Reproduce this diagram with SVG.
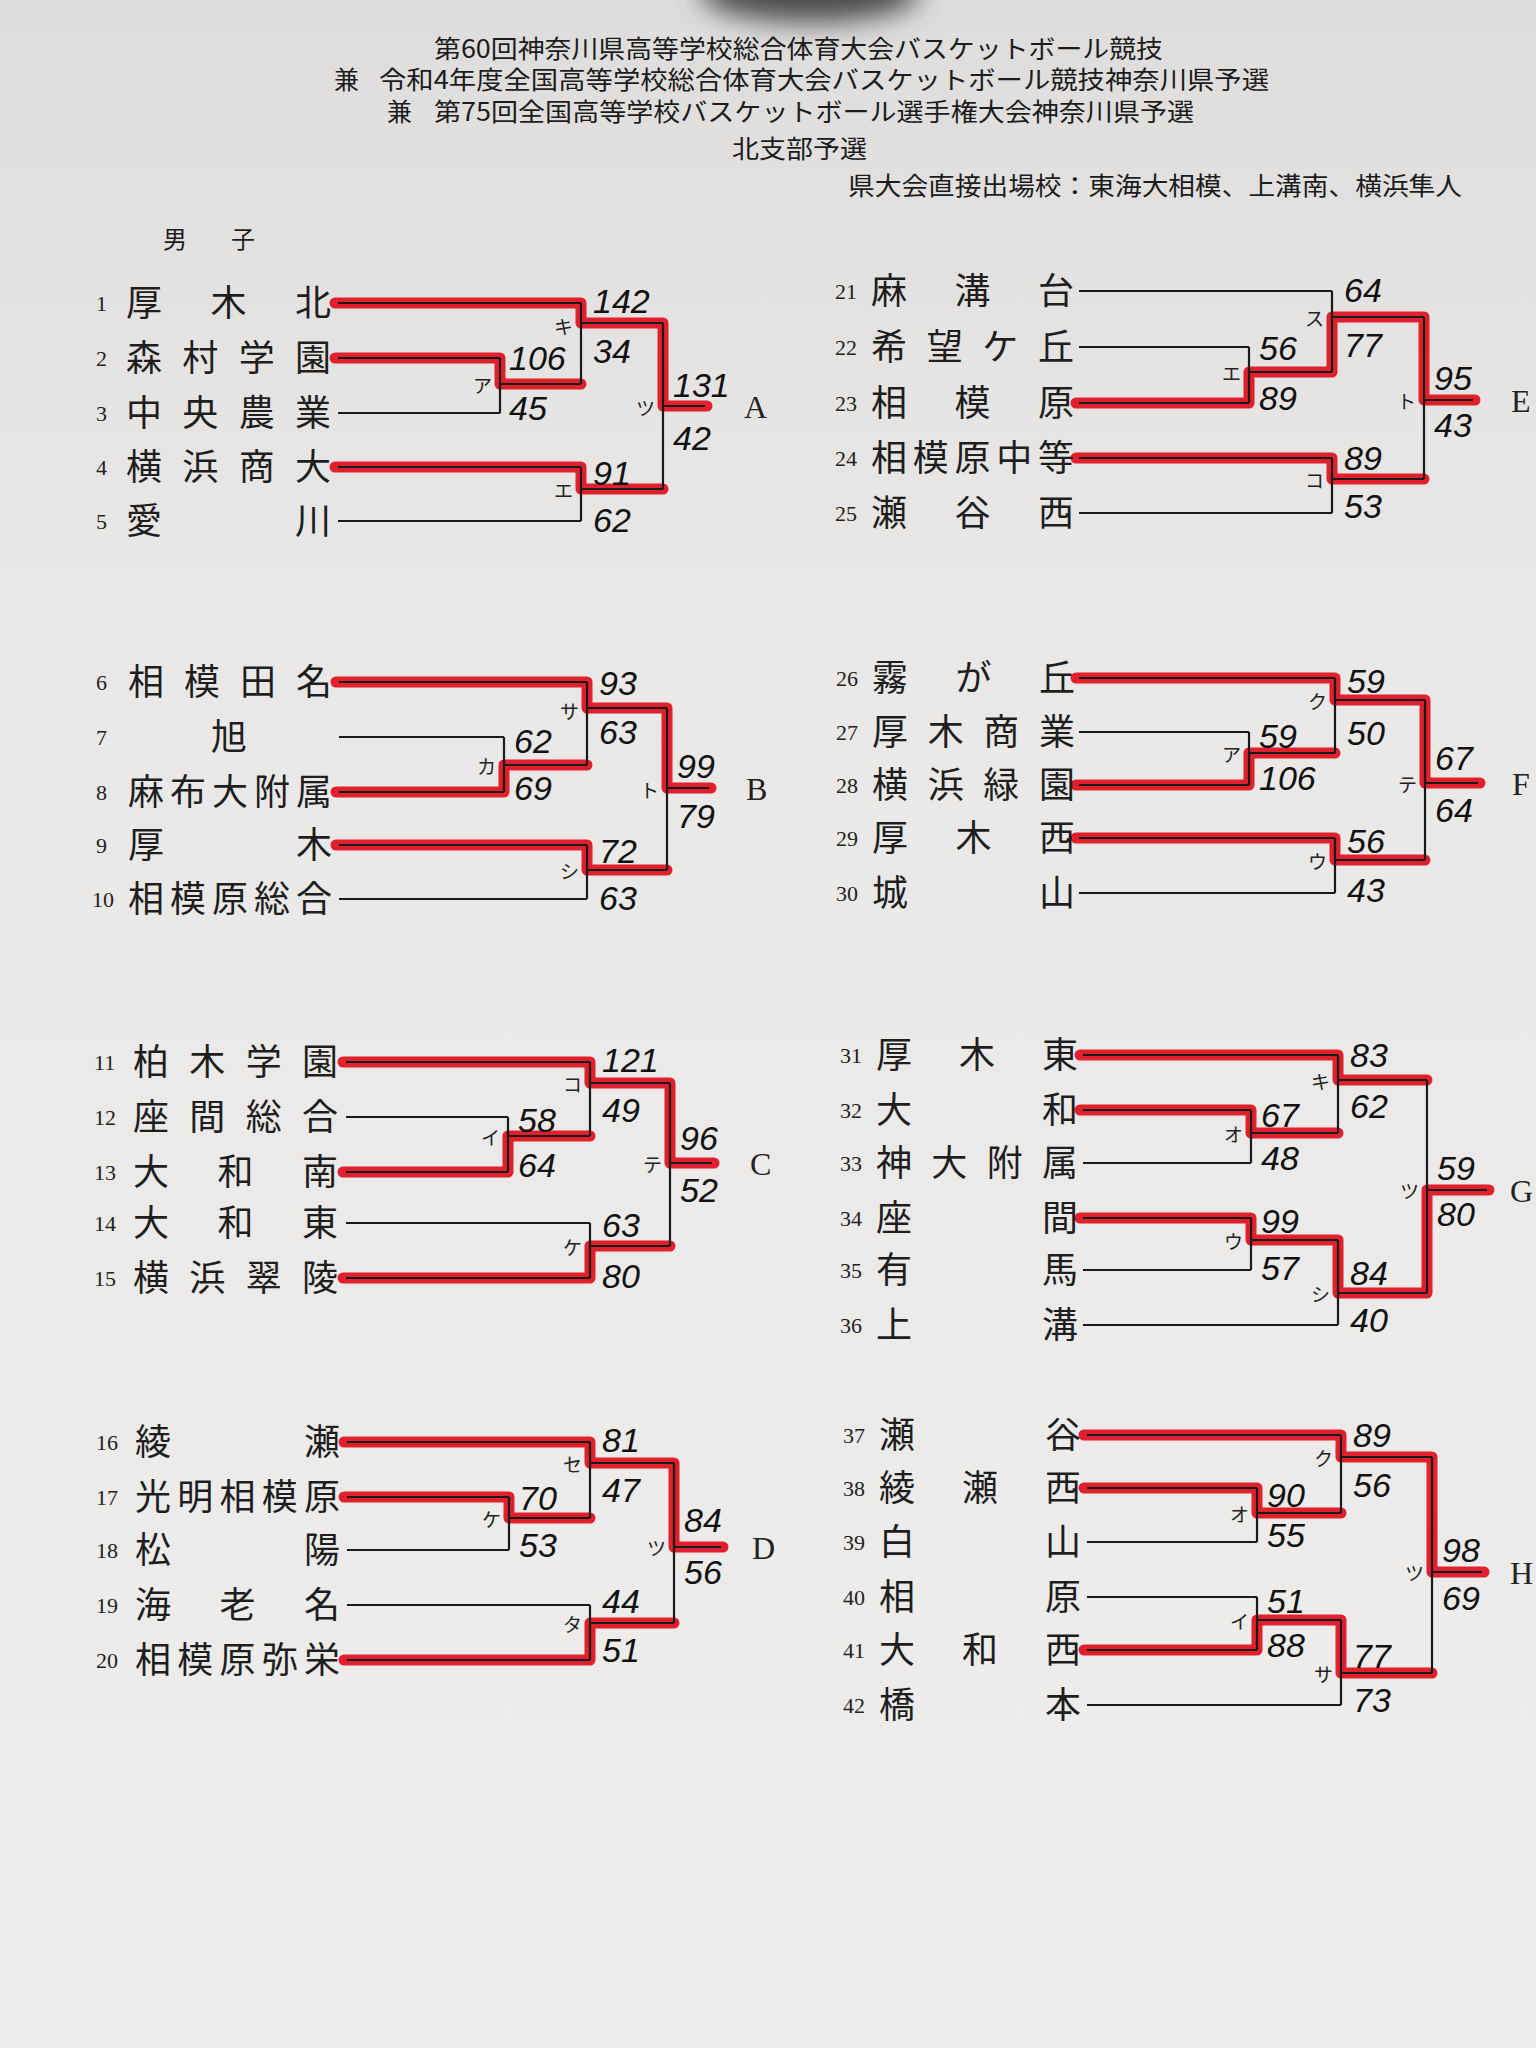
<svg xmlns="http://www.w3.org/2000/svg" width="1536" height="2048" viewBox="0 0 1536 2048">
<defs>
<linearGradient id="paper" x1="0" y1="0" x2="0" y2="1">
<stop offset="0" stop-color="#dedddb"/>
<stop offset="0.3" stop-color="#e9e8e6"/>
<stop offset="1" stop-color="#eeedeb"/>
</linearGradient>
<filter id="blur" x="-50%" y="-50%" width="200%" height="200%"><feGaussianBlur stdDeviation="14"/></filter>
</defs>
<style>
.hd{font-family:"Noto Sans CJK JP","Noto Sans CJK SC",sans-serif;font-size:25px;fill:#1c1c1c}
.no{font-family:"Liberation Serif",serif;font-size:22px;fill:#222}
.nm{font-family:"Noto Sans CJK JP","Noto Sans CJK SC",sans-serif;font-size:36px;fill:#1e1e1e}
.sc{font-family:"Liberation Sans",sans-serif;font-style:italic;font-size:34px;fill:#111}
.lb{font-family:"Noto Sans CJK JP","Noto Sans CJK SC",sans-serif;font-size:19px;fill:#222;text-anchor:end}
.bk{font-family:"Liberation Serif",serif;font-size:32px;fill:#222}
.ln{fill:none;stroke:#1a1a1a;stroke-width:2.2}
.hl{fill:none;stroke:#e0202c;stroke-width:11;stroke-linecap:round;stroke-linejoin:round}
</style>
<rect width="1536" height="2048" fill="url(#paper)"/>
<ellipse cx="810" cy="-8" rx="110" ry="30" fill="#4a4a4a" filter="url(#blur)"/>

<g id="header">
<text class="hd" x="434" y="58" textLength="729" lengthAdjust="spacingAndGlyphs">第60回神奈川県高等学校総合体育大会バスケットボール競技</text>
<text class="hd" x="334" y="89">兼</text>
<text class="hd" x="379" y="89" textLength="890" lengthAdjust="spacingAndGlyphs">令和4年度全国高等学校総合体育大会バスケットボール競技神奈川県予選</text>
<text class="hd" x="387" y="121">兼</text>
<text class="hd" x="434" y="121" textLength="760" lengthAdjust="spacingAndGlyphs">第75回全国高等学校バスケットボール選手権大会神奈川県予選</text>
<text class="hd" x="732" y="158" textLength="135" lengthAdjust="spacingAndGlyphs">北支部予選</text>
<text class="hd" x="848" y="195" textLength="614" lengthAdjust="spacingAndGlyphs">県大会直接出場校：東海大相模、上溝南、横浜隼人</text>
<text class="hd" x="163" y="248" textLength="92" lengthAdjust="spacing" style="font-size:24px">男子</text>
</g>

<g id="connectors">
<g id="highlights">
<path class="hl" d="M335 303H581V323H663V406H707M335 358H500V384H581M335 467H581V489H663"/>
<path class="hl" d="M336 682H587V708H667V788H711M336 792H504V765H587M336 845H587V870H667"/>
<path class="hl" d="M343 1062H590V1083H670V1163H714M343 1172H508V1136H590M343 1278H590V1246H670"/>
<path class="hl" d="M344 1442H590V1463H674V1547H723M344 1497H509V1518H590M344 1660H590V1623H674"/>
<path class="hl" d="M1076 403H1249V372H1332V317H1424V400H1475M1076 458H1332V479H1424"/>
<path class="hl" d="M1076 678H1335V700H1425V783H1480M1076 785H1249V753H1335M1076 838H1335V860H1425"/>
<path class="hl" d="M1080 1055H1338V1080H1427M1080 1110H1251V1133H1338M1080 1218H1251V1240H1338V1293H1427V1190H1489"/>
<path class="hl" d="M1084 1435H1341V1457H1432V1572H1484M1084 1488H1257V1513H1341M1084 1650H1257V1620H1341V1673H1432"/>
</g>
<g id="lines">
<path class="ln" d="M338 303H581M338 358H500M338 413H500M500 358V413M500 384H581M581 303V384M581 323H663M338 467H581M338 521H581M581 467V521M581 489H663M663 323V489M663 406H705"/>
<path class="ln" d="M339 682H587M339 737H504M339 792H504M504 737V792M504 765H587M587 682V765M587 708H667M339 845H587M339 899H587M587 845V899M587 870H667M667 708V870M667 788H709"/>
<path class="ln" d="M346 1062H590M346 1117H508M346 1172H508M508 1117V1172M508 1136H590M590 1062V1136M590 1083H670M346 1223H590M346 1278H590M590 1223V1278M590 1246H670M670 1083V1246M670 1163H712"/>
<path class="ln" d="M347 1442H590M347 1497H509M347 1550H509M509 1497V1550M509 1518H590M590 1442V1518M590 1463H674M347 1605H590M347 1660H590M590 1605V1660M590 1623H674M674 1463V1623M674 1547H721"/>
<path class="ln" d="M1079 291H1332M1079 347H1249M1079 403H1249M1249 347V403M1249 372H1332M1332 291V372M1332 317H1424M1079 458H1332M1079 513H1332M1332 458V513M1332 479H1424M1424 317V479M1424 400H1473"/>
<path class="ln" d="M1079 678H1335M1079 732H1249M1079 785H1249M1249 732V785M1249 753H1335M1335 678V753M1335 700H1425M1079 838H1335M1079 893H1335M1335 838V893M1335 860H1425M1425 700V860M1425 783H1478"/>
<path class="ln" d="M1083 1055H1338M1083 1110H1251M1083 1163H1251M1251 1110V1163M1251 1133H1338M1338 1055V1133M1338 1080H1427M1083 1218H1251M1083 1270H1251M1251 1218V1270M1251 1240H1338M1083 1325H1338M1338 1240V1325M1338 1293H1427M1427 1080V1293M1427 1190H1487"/>
<path class="ln" d="M1087 1435H1341M1087 1488H1257M1087 1542H1257M1257 1488V1542M1257 1513H1341M1341 1435V1513M1341 1457H1432M1087 1597H1257M1087 1650H1257M1257 1597V1650M1257 1620H1341M1087 1705H1341M1341 1620V1705M1341 1673H1432M1432 1457V1673M1432 1572H1482"/>
</g>
</g>

<!-- Teams -->
<g id="team-01"><text class="no" x="96" y="311">1</text><text class="nm" x="126" y="316" textLength="205" lengthAdjust="spacing">厚木北</text></g>
<g id="team-02"><text class="no" x="96" y="366">2</text><text class="nm" x="126" y="371" textLength="205" lengthAdjust="spacing">森村学園</text></g>
<g id="team-03"><text class="no" x="96" y="421">3</text><text class="nm" x="126" y="426" textLength="205" lengthAdjust="spacing">中央農業</text></g>
<g id="team-04"><text class="no" x="96" y="475">4</text><text class="nm" x="126" y="480" textLength="205" lengthAdjust="spacing">横浜商大</text></g>
<g id="team-05"><text class="no" x="96" y="529">5</text><text class="nm" x="126" y="534" textLength="205" lengthAdjust="spacing">愛川</text></g>

<g id="team-06"><text class="no" x="96" y="690">6</text><text class="nm" x="128" y="695" textLength="204" lengthAdjust="spacing">相模田名</text></g>
<g id="team-07"><text class="no" x="96" y="745">7</text><text class="nm" x="229" y="750" text-anchor="middle">旭</text></g>
<g id="team-08"><text class="no" x="96" y="800">8</text><text class="nm" x="128" y="805" textLength="204" lengthAdjust="spacing">麻布大附属</text></g>
<g id="team-09"><text class="no" x="96" y="853">9</text><text class="nm" x="128" y="858" textLength="204" lengthAdjust="spacing">厚木</text></g>
<g id="team-10"><text class="no" x="92" y="907">10</text><text class="nm" x="128" y="912" textLength="204" lengthAdjust="spacing">相模原総合</text></g>

<g id="team-11"><text class="no" x="94" y="1070">11</text><text class="nm" x="133" y="1075" textLength="205" lengthAdjust="spacing">柏木学園</text></g>
<g id="team-12"><text class="no" x="94" y="1125">12</text><text class="nm" x="133" y="1130" textLength="205" lengthAdjust="spacing">座間総合</text></g>
<g id="team-13"><text class="no" x="94" y="1180">13</text><text class="nm" x="133" y="1185" textLength="205" lengthAdjust="spacing">大和南</text></g>
<g id="team-14"><text class="no" x="94" y="1231">14</text><text class="nm" x="133" y="1236" textLength="205" lengthAdjust="spacing">大和東</text></g>
<g id="team-15"><text class="no" x="94" y="1286">15</text><text class="nm" x="133" y="1291" textLength="205" lengthAdjust="spacing">横浜翠陵</text></g>

<g id="team-16"><text class="no" x="96" y="1450">16</text><text class="nm" x="135" y="1455" textLength="205" lengthAdjust="spacing">綾瀬</text></g>
<g id="team-17"><text class="no" x="96" y="1505">17</text><text class="nm" x="135" y="1510" textLength="205" lengthAdjust="spacing">光明相模原</text></g>
<g id="team-18"><text class="no" x="96" y="1558">18</text><text class="nm" x="135" y="1563" textLength="205" lengthAdjust="spacing">松陽</text></g>
<g id="team-19"><text class="no" x="96" y="1613">19</text><text class="nm" x="135" y="1618" textLength="205" lengthAdjust="spacing">海老名</text></g>
<g id="team-20"><text class="no" x="96" y="1668">20</text><text class="nm" x="135" y="1673" textLength="205" lengthAdjust="spacing">相模原弥栄</text></g>

<g id="team-21"><text class="no" x="835" y="299">21</text><text class="nm" x="871" y="304" textLength="203" lengthAdjust="spacing">麻溝台</text></g>
<g id="team-22"><text class="no" x="835" y="355">22</text><text class="nm" x="871" y="360" textLength="203" lengthAdjust="spacing">希望ケ丘</text></g>
<g id="team-23"><text class="no" x="835" y="411">23</text><text class="nm" x="871" y="416" textLength="203" lengthAdjust="spacing">相模原</text></g>
<g id="team-24"><text class="no" x="835" y="466">24</text><text class="nm" x="871" y="471" textLength="203" lengthAdjust="spacing">相模原中等</text></g>
<g id="team-25"><text class="no" x="835" y="521">25</text><text class="nm" x="871" y="526" textLength="203" lengthAdjust="spacing">瀬谷西</text></g>

<g id="team-26"><text class="no" x="836" y="686">26</text><text class="nm" x="872" y="691" textLength="203" lengthAdjust="spacing">霧が丘</text></g>
<g id="team-27"><text class="no" x="836" y="740">27</text><text class="nm" x="872" y="745" textLength="203" lengthAdjust="spacing">厚木商業</text></g>
<g id="team-28"><text class="no" x="836" y="793">28</text><text class="nm" x="872" y="798" textLength="203" lengthAdjust="spacing">横浜緑園</text></g>
<g id="team-29"><text class="no" x="836" y="846">29</text><text class="nm" x="872" y="851" textLength="203" lengthAdjust="spacing">厚木西</text></g>
<g id="team-30"><text class="no" x="836" y="901">30</text><text class="nm" x="872" y="906" textLength="203" lengthAdjust="spacing">城山</text></g>

<g id="team-31"><text class="no" x="840" y="1063">31</text><text class="nm" x="876" y="1068" textLength="202" lengthAdjust="spacing">厚木東</text></g>
<g id="team-32"><text class="no" x="840" y="1118">32</text><text class="nm" x="876" y="1123" textLength="202" lengthAdjust="spacing">大和</text></g>
<g id="team-33"><text class="no" x="840" y="1171">33</text><text class="nm" x="876" y="1176" textLength="202" lengthAdjust="spacing">神大附属</text></g>
<g id="team-34"><text class="no" x="840" y="1226">34</text><text class="nm" x="876" y="1231" textLength="202" lengthAdjust="spacing">座間</text></g>
<g id="team-35"><text class="no" x="840" y="1278">35</text><text class="nm" x="876" y="1283" textLength="202" lengthAdjust="spacing">有馬</text></g>
<g id="team-36"><text class="no" x="840" y="1333">36</text><text class="nm" x="876" y="1338" textLength="202" lengthAdjust="spacing">上溝</text></g>

<g id="team-37"><text class="no" x="843" y="1443">37</text><text class="nm" x="879" y="1448" textLength="202" lengthAdjust="spacing">瀬谷</text></g>
<g id="team-38"><text class="no" x="843" y="1496">38</text><text class="nm" x="879" y="1501" textLength="202" lengthAdjust="spacing">綾瀬西</text></g>
<g id="team-39"><text class="no" x="843" y="1550">39</text><text class="nm" x="879" y="1555" textLength="202" lengthAdjust="spacing">白山</text></g>
<g id="team-40"><text class="no" x="843" y="1605">40</text><text class="nm" x="879" y="1610" textLength="202" lengthAdjust="spacing">相原</text></g>
<g id="team-41"><text class="no" x="843" y="1658">41</text><text class="nm" x="879" y="1663" textLength="202" lengthAdjust="spacing">大和西</text></g>
<g id="team-42"><text class="no" x="843" y="1713">42</text><text class="nm" x="879" y="1718" textLength="202" lengthAdjust="spacing">橋本</text></g>

<!-- Matches -->
<g id="match-A1"><text class="lb" x="492" y="393">ア</text><text class="sc" x="509" y="370">106</text><text class="sc" x="509" y="420">45</text></g>
<g id="match-A2"><text class="lb" x="573" y="334">キ</text><text class="sc" x="593" y="313">142</text><text class="sc" x="593" y="363">34</text></g>
<g id="match-A3"><text class="lb" x="573" y="498">エ</text><text class="sc" x="593" y="485">91</text><text class="sc" x="593" y="532">62</text></g>
<g id="match-A4"><text class="lb" x="655" y="416">ツ</text><text class="sc" x="673" y="397">131</text><text class="sc" x="673" y="450">42</text></g>
<g id="group-A"><text class="bk" x="744" y="418">A</text></g>

<g id="match-B1"><text class="lb" x="496" y="774">カ</text><text class="sc" x="514" y="753">62</text><text class="sc" x="514" y="800">69</text></g>
<g id="match-B2"><text class="lb" x="579" y="719">サ</text><text class="sc" x="599" y="695">93</text><text class="sc" x="599" y="744">63</text></g>
<g id="match-B3"><text class="lb" x="579" y="879">シ</text><text class="sc" x="599" y="863">72</text><text class="sc" x="599" y="910">63</text></g>
<g id="match-B4"><text class="lb" x="659" y="798">ト</text><text class="sc" x="677" y="778">99</text><text class="sc" x="677" y="828">79</text></g>
<g id="group-B"><text class="bk" x="746" y="800">B</text></g>

<g id="match-C1"><text class="lb" x="500" y="1145">イ</text><text class="sc" x="518" y="1132">58</text><text class="sc" x="518" y="1177">64</text></g>
<g id="match-C2"><text class="lb" x="582" y="1092">コ</text><text class="sc" x="602" y="1072">121</text><text class="sc" x="602" y="1122">49</text></g>
<g id="match-C3"><text class="lb" x="582" y="1255">ケ</text><text class="sc" x="602" y="1237">63</text><text class="sc" x="602" y="1288">80</text></g>
<g id="match-C4"><text class="lb" x="662" y="1172">テ</text><text class="sc" x="680" y="1150">96</text><text class="sc" x="680" y="1202">52</text></g>
<g id="group-C"><text class="bk" x="750" y="1175">C</text></g>

<g id="match-D1"><text class="lb" x="501" y="1527">ケ</text><text class="sc" x="519" y="1510">70</text><text class="sc" x="519" y="1557">53</text></g>
<g id="match-D2"><text class="lb" x="582" y="1472">セ</text><text class="sc" x="602" y="1452">81</text><text class="sc" x="602" y="1502">47</text></g>
<g id="match-D3"><text class="lb" x="582" y="1632">タ</text><text class="sc" x="602" y="1613">44</text><text class="sc" x="602" y="1662">51</text></g>
<g id="match-D4"><text class="lb" x="666" y="1556">ツ</text><text class="sc" x="684" y="1532">84</text><text class="sc" x="684" y="1584">56</text></g>
<g id="group-D"><text class="bk" x="752" y="1559">D</text></g>

<g id="match-E1"><text class="lb" x="1241" y="381">エ</text><text class="sc" x="1259" y="360">56</text><text class="sc" x="1259" y="410">89</text></g>
<g id="match-E2"><text class="lb" x="1324" y="326">ス</text><text class="sc" x="1344" y="302">64</text><text class="sc" x="1344" y="357">77</text></g>
<g id="match-E3"><text class="lb" x="1324" y="488">コ</text><text class="sc" x="1344" y="470">89</text><text class="sc" x="1344" y="518">53</text></g>
<g id="match-E4"><text class="lb" x="1416" y="409">ト</text><text class="sc" x="1434" y="390">95</text><text class="sc" x="1434" y="437">43</text></g>
<g id="group-E"><text class="bk" x="1511" y="412">E</text></g>

<g id="match-F1"><text class="lb" x="1241" y="762">ア</text><text class="sc" x="1259" y="748">59</text><text class="sc" x="1259" y="790">106</text></g>
<g id="match-F2"><text class="lb" x="1327" y="709">ク</text><text class="sc" x="1347" y="693">59</text><text class="sc" x="1347" y="745">50</text></g>
<g id="match-F3"><text class="lb" x="1327" y="869">ウ</text><text class="sc" x="1347" y="853">56</text><text class="sc" x="1347" y="902">43</text></g>
<g id="match-F4"><text class="lb" x="1417" y="792">テ</text><text class="sc" x="1435" y="770">67</text><text class="sc" x="1435" y="822">64</text></g>
<g id="group-F"><text class="bk" x="1512" y="795">F</text></g>

<g id="match-G1"><text class="lb" x="1243" y="1142">オ</text><text class="sc" x="1261" y="1127">67</text><text class="sc" x="1261" y="1170">48</text></g>
<g id="match-G2"><text class="lb" x="1330" y="1089">キ</text><text class="sc" x="1350" y="1067">83</text><text class="sc" x="1350" y="1118">62</text></g>
<g id="match-G3"><text class="lb" x="1243" y="1249">ウ</text><text class="sc" x="1261" y="1233">99</text><text class="sc" x="1261" y="1280">57</text></g>
<g id="match-G4"><text class="lb" x="1330" y="1302">シ</text><text class="sc" x="1350" y="1285">84</text><text class="sc" x="1350" y="1332">40</text></g>
<g id="match-G5"><text class="lb" x="1419" y="1199">ツ</text><text class="sc" x="1437" y="1180">59</text><text class="sc" x="1437" y="1226">80</text></g>
<g id="group-G"><text class="bk" x="1510" y="1202">G</text></g>

<g id="match-H1"><text class="lb" x="1249" y="1522">オ</text><text class="sc" x="1267" y="1507">90</text><text class="sc" x="1267" y="1547">55</text></g>
<g id="match-H2"><text class="lb" x="1333" y="1466">ク</text><text class="sc" x="1353" y="1447">89</text><text class="sc" x="1353" y="1497">56</text></g>
<g id="match-H3"><text class="lb" x="1249" y="1629">イ</text><text class="sc" x="1267" y="1613">51</text><text class="sc" x="1267" y="1657">88</text></g>
<g id="match-H4"><text class="lb" x="1333" y="1682">サ</text><text class="sc" x="1353" y="1668">77</text><text class="sc" x="1353" y="1712">73</text></g>
<g id="match-H5"><text class="lb" x="1424" y="1581">ツ</text><text class="sc" x="1442" y="1562">98</text><text class="sc" x="1442" y="1610">69</text></g>
<g id="group-H"><text class="bk" x="1510" y="1584">H</text></g>
</svg>
